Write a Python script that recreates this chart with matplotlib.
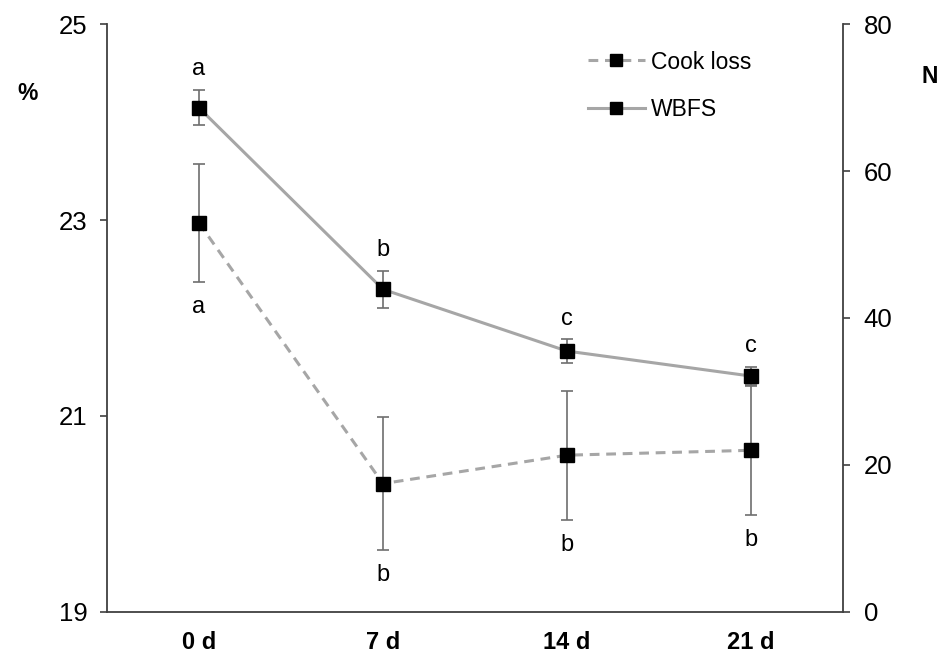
import matplotlib
matplotlib.use("Agg")
import matplotlib.pyplot as plt
from matplotlib import font_manager

plt.rcParams["font.family"] = ["Liberation Sans", "DejaVu Sans"]

days = ["0 d", "7 d", "14 d", "21 d"]
cook_loss = [22.97, 20.31, 20.60, 20.65]
cook_err = [0.60, 0.68, 0.66, 0.66]
cook_letters = ["a", "b", "b", "b"]
wbfs = [68.6, 43.9, 35.5, 32.1]
wbfs_err = [2.4, 2.5, 1.6, 1.25]
wbfs_letters = ["a", "b", "c", "c"]

names = {f.name for f in font_manager.fontManager.ttflist}
narrow = "Liberation Sans Narrow" if "Liberation Sans Narrow" in names else "Liberation Sans"

LINE = "#A6A6A6"
ERR = "#6E6E6E"
SPINE = "#404040"

fig = plt.figure(figsize=(9.45, 6.56), dpi=100)
ax = fig.add_axes([0.1132, 0.0671, 0.7788, 0.8963])
ax2 = ax.twinx()

x = list(range(len(days)))

ax.errorbar(x, cook_loss, yerr=cook_err, fmt="none", ecolor=ERR,
            elinewidth=1.2, capsize=4, capthick=1.2, zorder=2)
ax.plot(x, cook_loss, color=LINE, linewidth=2.2, linestyle=(0, (3.2, 2.2)),
        marker="s", markersize=9.5, markerfacecolor="black",
        markeredgecolor="black", zorder=3, label="Cook loss")

ax2.errorbar(x, wbfs, yerr=wbfs_err, fmt="none", ecolor=ERR,
             elinewidth=1.2, capsize=4, capthick=1.2, zorder=2)
ax2.plot(x, wbfs, color=LINE, linewidth=2.2, marker="s", markersize=9.5,
         markerfacecolor="black", markeredgecolor="black", zorder=3,
         label="WBFS")

# significance letters
for xi, v, e, t in zip(x, cook_loss, cook_err, cook_letters):
    ax.annotate(t, (xi, v - e), xytext=(0, -10), textcoords="offset points",
                ha="center", va="top", fontsize=17)
for xi, v, e, t in zip(x, wbfs, wbfs_err, wbfs_letters):
    ax2.annotate(t, (xi, v + e), xytext=(0, 7), textcoords="offset points",
                 ha="center", va="bottom", fontsize=17)

ax.set_xlim(-0.5, 3.5)
ax.set_ylim(19, 25)
ax.set_yticks([19, 21, 23, 25])
ax2.set_ylim(0, 80)
ax2.set_yticks([0, 20, 40, 60, 80])
ax.set_xticks(x)
ax.set_xticklabels(days, fontsize=17, fontweight="bold", family=narrow)

for a in (ax, ax2):
    a.spines["top"].set_visible(False)
    for s in ("left", "right", "bottom"):
        a.spines[s].set_color(SPINE)
        a.spines[s].set_linewidth(1.3)
ax.spines["right"].set_visible(False)
ax2.spines["left"].set_visible(False)
ax2.spines["bottom"].set_visible(False)

ax.tick_params(axis="x", length=0, pad=14)
ax.tick_params(axis="y", direction="out", length=5, width=1.2, color=SPINE,
               labelsize=18.5, pad=9)
ax2.tick_params(axis="y", direction="out", length=5, width=1.2, color=SPINE,
                labelsize=18.5, pad=10)

fig.text(0.029, 0.857, "%", fontsize=16.5, fontweight="bold", ha="center", va="center")
fig.text(0.984, 0.884, "N", fontsize=16.5, fontweight="bold", ha="center", va="center")

h1, l1 = ax.get_legend_handles_labels()
h2, l2 = ax2.get_legend_handles_labels()
leg = ax2.legend(h1 + h2, l1 + l2, loc="upper left",
                 bbox_to_anchor=(0.625, 0.99), frameon=False, fontsize=16.5,
                 handlelength=2.5, handletextpad=0.25, labelspacing=1.05,
                 markerscale=0.85)

fig.savefig("out.png", dpi=100)
